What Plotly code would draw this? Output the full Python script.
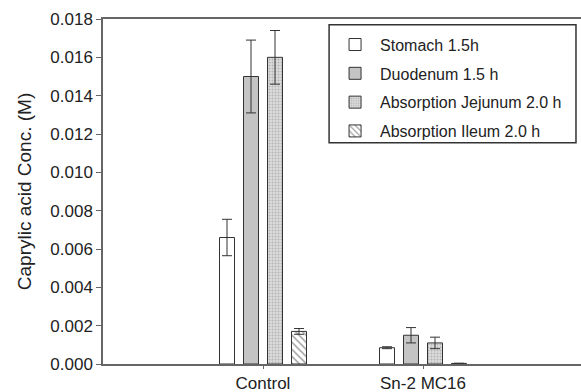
import plotly.graph_objects as go

categories = ["Control", "Sn-2 MC16"]
cat_pos = [0, 1]
series_names = ["Stomach 1.5h", "Duodenum 1.5 h", "Absorption Jejunum 2.0 h", "Absorption Ileum 2.0 h"]
stomach = [0.0066, 0.00085]
stomach_err = [0.00095, 0.00005]
duodenum = [0.0150, 0.0015]
duodenum_err = [0.0019, 0.0004]
jejunum = [0.0160, 0.0011]
jejunum_err = [0.0014, 0.0003]
ileum = [0.0017, 0.00003]
ileum_err = [0.00015, 0.00001]
y_ticks = [0.000, 0.002, 0.004, 0.006, 0.008, 0.010, 0.012, 0.014, 0.016, 0.018]

values = [stomach, duodenum, jejunum, ileum]
errors = [stomach_err, duodenum_err, jejunum_err, ileum_err]
fills = ["white", "#c4c4c4", "#dcdcdc", "white"]
patterns = [dict(shape=""), dict(shape=""),
            dict(shape=".", fgcolor="#8a8a8a", size=3, solidity=0.35),
            dict(shape="\\", fgcolor="#444444", size=5, solidity=0.3)]

fig = go.Figure()
for i in range(4):
    fig.add_trace(go.Bar(
        x=cat_pos, y=values[i], name=series_names[i],
        legendgroup=f"g{i}",
        marker=dict(color=fills[i], line=dict(color="#333333", width=1), pattern=patterns[i]),
        error_y=dict(type="data", array=errors[i], color="#333333", thickness=1, width=5),
    ))

fam = "Liberation Sans, Arial, sans-serif"
fig.update_layout(
    width=581, height=392,
    margin=dict(l=103, r=0, t=19, b=28),
    paper_bgcolor="white", plot_bgcolor="white",
    barmode="group", bargap=0.4, bargroupgap=0.375,
    font=dict(family=fam, size=17, color="#222222"),
    showlegend=True,
    legend=dict(x=0.475, y=0.975, xanchor="left", yanchor="top",
                borderwidth=0, bgcolor="rgba(0,0,0,0)",
                font=dict(family=fam, size=16, color="#222222"),
                tracegroupgap=5, itemwidth=40),
    shapes=[dict(type="rect", xref="paper", yref="paper", x0=0.473, x1=0.9895, y0=0.641, y1=0.983,
                 line=dict(color="#333333", width=1.5), fillcolor="white", layer="below")],
    xaxis=dict(range=[-1, 1.9875], tickmode="array", tickvals=cat_pos, ticktext=categories,
               showline=True, linecolor="#666666", linewidth=1.5, mirror=True,
               ticks="outside", ticklen=3, tickcolor="#666666", showgrid=False, zeroline=False,
               tickfont=dict(size=17)),
    yaxis=dict(range=[0, 0.018], tickmode="array", tickvals=y_ticks,
               ticktext=[f"{v:.3f}" for v in y_ticks],
               showline=True, linecolor="#666666", linewidth=1.5,
               ticks="outside", ticklen=5, tickcolor="#666666", showgrid=False, zeroline=False,
               tickfont=dict(size=17),
               title=dict(text="Caprylic acid Conc. (M)", font=dict(size=19), standoff=14)),
)
fig.write_html("out.html")
